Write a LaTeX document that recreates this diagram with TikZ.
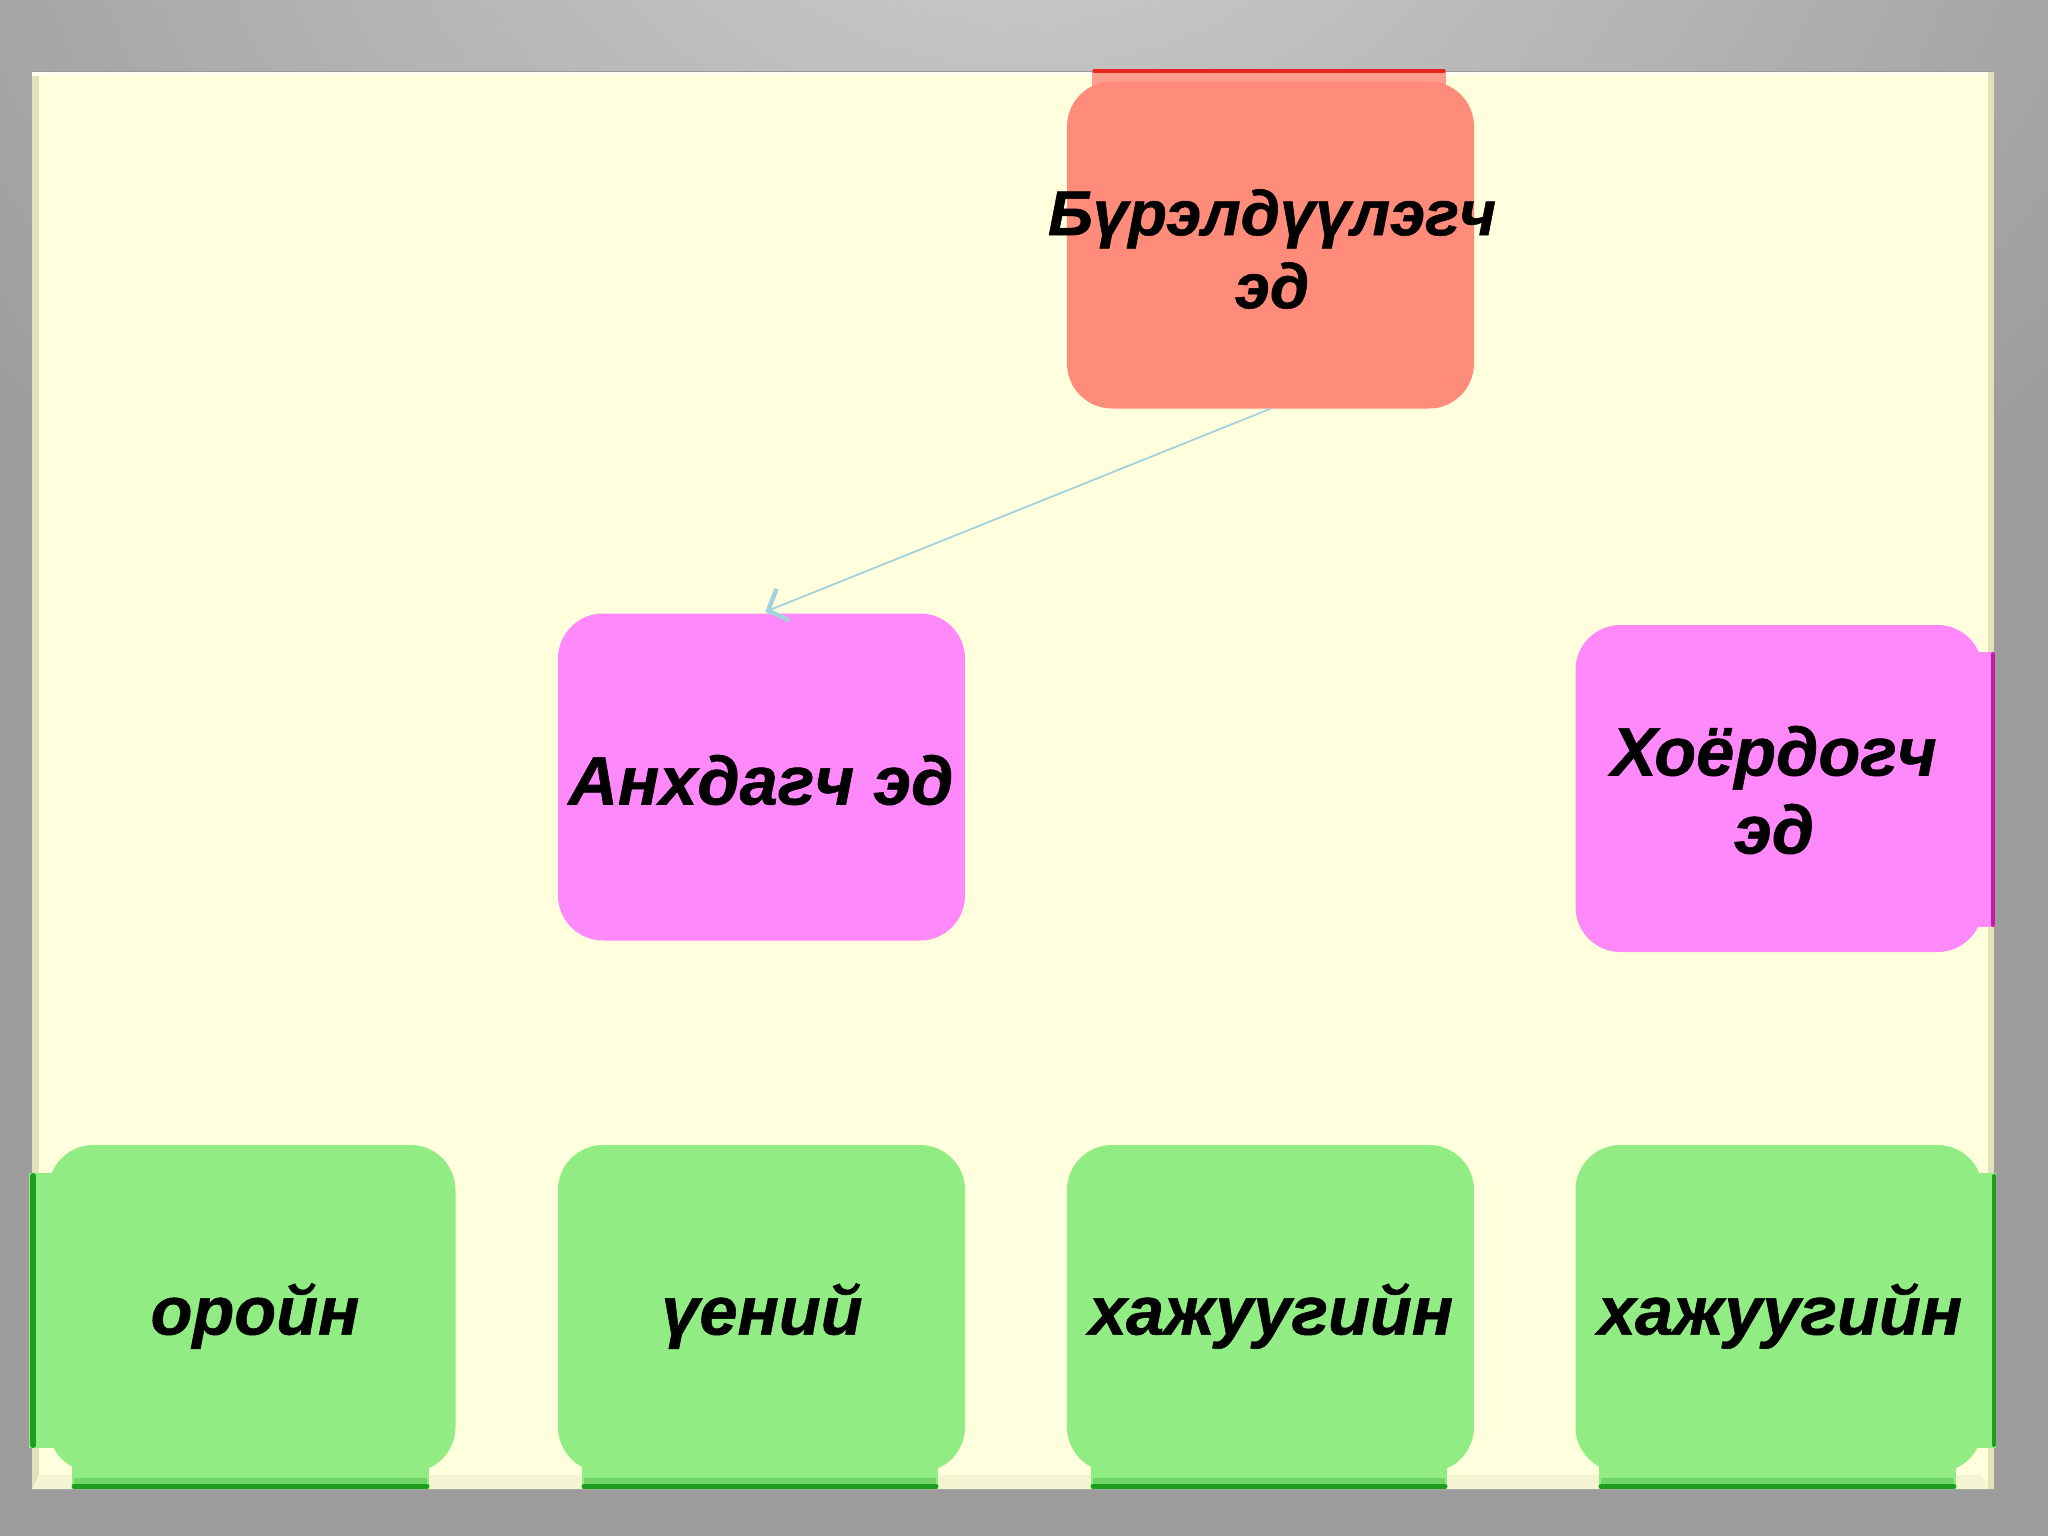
\documentclass[tikz,border=0pt]{standalone}
\usepackage{fontspec}
\setmainfont{Liberation Sans}
\newfontfamily\lblfont[BoldItalicFeatures={FakeBold=0.8}]{Liberation Sans}
\usetikzlibrary{arrows.meta}
\definecolor{bggray}{HTML}{9C9C9C}
\definecolor{bglight}{HTML}{CFCFCF}
\definecolor{cream}{HTML}{FFFFDE}
\definecolor{creamshadow}{HTML}{E2E2BA}
\definecolor{creambevel}{HTML}{F4F4D2}
\definecolor{salmonbox}{HTML}{FF8C7A}
\definecolor{redstrip}{HTML}{E8241E}
\definecolor{pinkbox}{HTML}{FF88FA}
\definecolor{magentastrip}{HTML}{C81AAA}
\definecolor{greenbox}{HTML}{92EC84}
\definecolor{greenstrip}{HTML}{1E9E1E}
\definecolor{arrowblue}{HTML}{A4D2DC}
\tikzset{
  boxshape/.style={rounded corners=45pt, minimum width=407pt, minimum height=327pt, inner sep=0pt, draw=none},
  lbl/.style={align=center, inner sep=0pt, font=\lblfont\fontsize{68.5}{78}\selectfont\bfseries\itshape},
  toplbl/.style={align=center, inner sep=0pt, font=\lblfont\fontsize{63.5}{73}\selectfont\bfseries\itshape},
  link/.style={draw=arrowblue, line width=1.8pt, shorten >=4pt, -{Straight Barb[length=16pt,width=34pt,line width=4.5pt]}}
}
\begin{document}
\begin{tikzpicture}[x=1pt,y=-1pt]
\useasboundingbox (0,0) rectangle (2048,1536);
% background
\fill[bggray] (0,0) rectangle (2048,1536);
\begin{scope}
\clip (0,0) rectangle (2048,1536);
\shade[inner color=bglight, outer color=bggray] (1024,-200) ellipse (1300 and 1000);
\end{scope}
% slide panel
\fill[cream] (32,71) rectangle (1994,1489);
\fill[creamshadow] (32,71) rectangle (39,1489);
\fill[white!60!cream] (32,71) rectangle (1994,76);
\fill[creambevel] (39,1475) -- (1980,1475) -- (1994,1489) -- (32,1489) -- cycle;
\fill[creamshadow] (1988,71) rectangle (1994,1489);
\draw[gray!80, line width=0.8pt] (32,71) -- (1994,71);

% decorative strips behind boxes
\fill[salmonbox!85!white] (1092,71) rectangle (1446,100);
\draw[redstrip, line width=3.5pt, line cap=round] (1094,71) -- (1444,71);
\fill[pinkbox] (1960,652) rectangle (1995,927);
\draw[magentastrip, line width=4pt, line cap=round] (1993,654) -- (1993,925);
\foreach \xl/\xr in {48/456, 558/965, 1067/1474, 1575/1983} {
  \fill[greenbox] (\xl+24,1440) rectangle (\xr-27,1489);
  \fill[greenbox!70!greenstrip] (\xl+26,1478) rectangle (\xr-29,1484);
  \draw[greenstrip, line width=5pt, line cap=round] (\xl+26,1486) -- (\xr-29,1486);
}
\fill[greenbox] (29,1173) rectangle (60,1448);
\draw[greenstrip, line width=6pt, line cap=round] (33,1176) -- (33,1445);
\fill[greenbox] (1960,1173) rectangle (1996,1448);
\draw[greenstrip, line width=4pt, line cap=round] (1994,1176) -- (1994,1445);

% boxes
\node[boxshape, fill=salmonbox] (top) at (1270.5,245) {};
\node[boxshape, fill=pinkbox] (anh) at (761.5,777) {};
\node[boxshape, fill=pinkbox] (hoer) at (1779,788.5) {};
\node[boxshape, fill=greenbox] (g1) at (252,1308.5) {};
\node[boxshape, fill=greenbox] (g2) at (761.5,1308.5) {};
\node[boxshape, fill=greenbox] (g3) at (1270.5,1308.5) {};
\node[boxshape, fill=greenbox] (g4) at (1779,1308.5) {};

% labels
\node[toplbl] (topl) at (1272,249) {Бүрэлдүүлэгч\\эд};
\node[lbl] (anhl) at (761,780) {Анхдагч эд};
\node[lbl] (hoerl) at (1774,790) {Хоёрдогч\\эд};
\node[lbl] (g1l) at (255,1316) {оройн};
\node[lbl] (g2l) at (762,1316) {үений};
\node[lbl] (g3l) at (1271,1316) {хажуугийн};
\node[lbl] (g4l) at (1780,1316) {хажуугийн};

% connector
\draw[link] (top.south) -- (anh.north);
\end{tikzpicture}
\end{document}
